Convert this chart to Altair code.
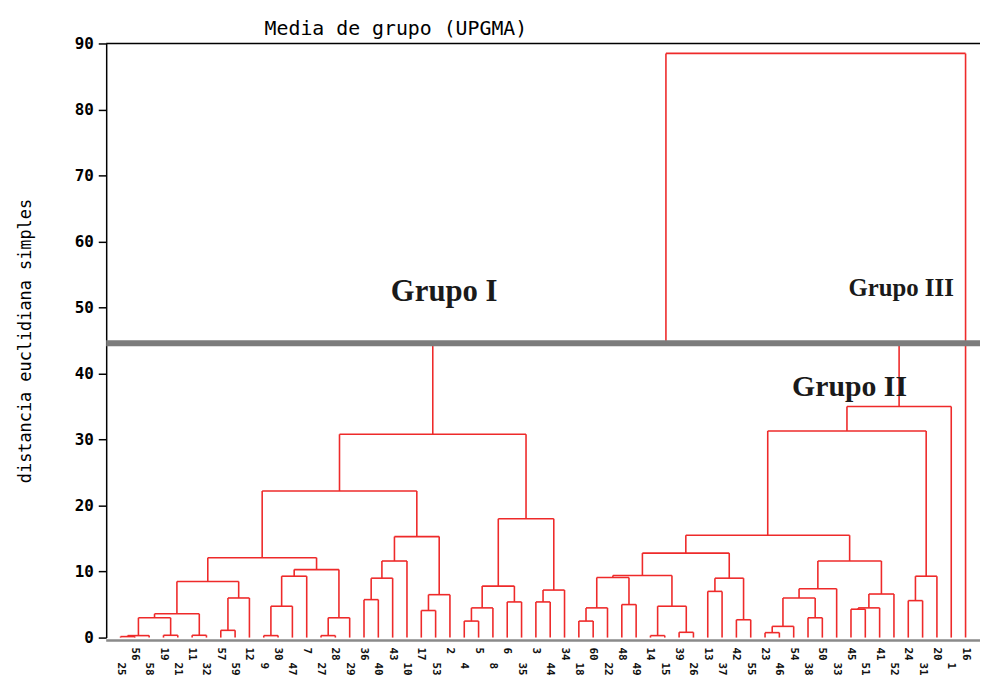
import altair as alt
import pandas as pd

# ---------------- data ----------------
leaf_labels = ["25", "56", "58", "19", "21", "11", "32", "57", "59", "12",
               "9", "30", "47", "7", "27", "28", "29", "36", "40", "43",
               "10", "17", "53", "2", "4", "5", "8", "6", "35", "3",
               "44", "34", "18", "60", "22", "48", "49", "14", "15", "39",
               "26", "13", "37", "42", "55", "23", "46", "54", "38", "50",
               "33", "45", "51", "41", "52", "24", "31", "20", "1", "16"]

# merges: name, left child, right child, linkage distance
merge_names = ["a1", "a2", "a3", "a4", "a5", "a6", "a7", "a8", "a9", "a10",
               "a11", "a12", "a13", "a14", "a15", "a16", "a17", "a18", "a19", "a20",
               "a21", "a22", "a23", "a24", "a25", "a26", "a27", "a28", "a29", "a30",
               "GI",
               "b1", "b2", "b3", "b4", "b5", "b6", "b7", "b8", "b9", "b10",
               "b11", "b12", "b13", "b14", "b15", "b16", "b17", "b18", "b19", "b20",
               "b21", "b22", "b23", "b24", "b25", "GII", "c1", "root"]
merge_left = ["L0", "a1", "L3", "a2", "L5", "a4", "L7", "a7", "a6", "L10",
              "a10", "a11", "L14", "a13", "a12", "a9", "L17", "a17", "a18", "L21",
              "a20", "a19", "a16", "L24", "a24", "L27", "a25", "L29", "a28", "a27",
              "a23",
              "L32", "b1", "L35", "b2", "L37", "L39", "b5", "b4", "L41", "L43",
              "b9", "b8", "L45", "b13", "L48", "b14", "b16", "L51", "b18", "b19",
              "b17", "b12", "L55", "b23", "b22", "b25", "GI", "c1"]
merge_right = ["L1", "L2", "L4", "a3", "L6", "a5", "L8", "L9", "a8", "L11",
               "L12", "L13", "L15", "L16", "a14", "a15", "L18", "L19", "L20", "L22",
               "L23", "a21", "a22", "L25", "L26", "L28", "a26", "L30", "L31", "a29",
               "a30",
               "L33", "L34", "L36", "b3", "L38", "L40", "b6", "b7", "L42", "L44",
               "b10", "b11", "L46", "L47", "L49", "b15", "L50", "L52", "L53", "L54",
               "b20", "b21", "L56", "L57", "b24", "L58", "GII", "L59"]
merge_height = [0.15, 0.3, 0.35, 3.0, 0.35, 3.6, 1.1, 6.0, 8.5, 0.3,
                4.75, 9.3, 0.3, 3.0, 10.3, 12.1, 5.75, 9.0, 11.6, 4.1,
                6.5, 15.3, 22.2, 2.5, 4.5, 5.4, 7.8, 5.4, 7.2, 18.0,
                30.8,
                2.5, 4.5, 5.0, 9.1, 0.3, 0.8, 4.75, 9.4, 7.0, 2.7,
                9.0, 12.8, 0.75, 1.7, 3.0, 6.0, 7.4, 4.3, 4.5, 6.6,
                11.6, 15.5, 5.6, 9.3, 31.3, 35.0, 44.6, 88.5]

cut_height = [44.6]

group_names = ["Grupo I", "Grupo III", "Grupo II"]
group_x = [22.6, 54.5, 50.9]
group_y = [52.3, 53.0, 38.0]
group_size = [31, 25, 30]

# ---------------- build segments ----------------
pos = {f"L{i}": (float(i), 0.0) for i in range(len(leaf_labels))}
segs = []
for name, l, r, h in zip(merge_names, merge_left, merge_right, merge_height):
    xl, hl = pos[l]
    xr, hr = pos[r]
    segs.append({"x": xl, "x2": xl, "y": hl, "y2": h})
    segs.append({"x": xr, "x2": xr, "y": hr, "y2": h})
    segs.append({"x": xl, "x2": xr, "y": h, "y2": h})
    pos[name] = ((xl + xr) / 2.0, h)
seg_df = pd.DataFrame(segs)

leaf_df = pd.DataFrame({"i": list(range(len(leaf_labels))), "label": leaf_labels})
leaf_df["row"] = leaf_df["i"] % 2
grp_df = pd.DataFrame({"name": group_names, "x": group_x, "y": group_y, "s": group_size})
cut_df = pd.DataFrame({"y": cut_height})

W, H = 878, 599
PR = 3
xs = alt.Scale(domain=[-1.0, 59.8], nice=False, zero=False)
ys = alt.Scale(domain=[0, 90], nice=False)
MONO = "DejaVu Sans Mono"
RED = "#ee2a2a"

base_x = alt.X("x:Q", scale=xs,
               axis=alt.Axis(labels=False, ticks=False, grid=False, title=None,
                             domain=False))
base_y = alt.Y("y:Q", scale=ys,
               axis=alt.Axis(values=list(range(0, 91, 10)), grid=False,
                             tickSize=8, tickColor="#000", tickWidth=1.5,
                             domainColor="#000", domainWidth=1.5,
                             labelFont=MONO, labelFontWeight="bold", labelFontSize=16,
                             labelColor="#000", labelPadding=5,
                             title="distancia euclidiana simples",
                             titleFont=MONO, titleFontWeight="normal", titleFontSize=17,
                             titleColor="#000", titlePadding=40))

tree = alt.Chart(seg_df).mark_rule(color=RED, strokeWidth=1.6).encode(
    x=base_x, x2="x2:Q", y=base_y, y2="y2:Q")

cut = alt.Chart(cut_df).mark_rule(color="#7c7c7c", strokeWidth=6).encode(
    y=alt.Y("y:Q", scale=ys), x=alt.value(0), x2=alt.value(W + PR))

top = alt.Chart(pd.DataFrame({"y": [90]})).mark_rule(color="#000", strokeWidth=1.5).encode(
    y=alt.Y("y:Q", scale=ys), x=alt.value(0), x2=alt.value(W + PR))

bottom = alt.Chart(pd.DataFrame({"y": [0]})).mark_rule(color="#8a8a8a", strokeWidth=2.5).encode(
    y=alt.value(H + 3), x=alt.value(0), x2=alt.value(W + PR))

lab_up = alt.Chart(leaf_df[leaf_df["row"] == 1]).mark_text(
    angle=90, align="left", baseline="middle", font=MONO, fontWeight="bold",
    fontSize=11, color="#111").encode(
    x=alt.X("i:Q", scale=xs), y=alt.value(H + 10), text="label:N")
lab_dn = alt.Chart(leaf_df[leaf_df["row"] == 0]).mark_text(
    angle=90, align="left", baseline="middle", font=MONO, fontWeight="bold",
    fontSize=11, color="#111").encode(
    x=alt.X("i:Q", scale=xs), y=alt.value(H + 25), text="label:N")

groups = alt.Chart(grp_df).mark_text(
    font="Liberation Serif", fontWeight="bold", color="#1a1a1a").encode(
    x=alt.X("x:Q", scale=xs), y=alt.Y("y:Q", scale=ys), text="name:N",
    size=alt.Size("s:Q", scale=None, legend=None))

chart = alt.layer(tree, cut, top, bottom, groups, lab_up, lab_dn).properties(
    width=W, height=H,
    title=alt.TitleParams("Media de grupo (UPGMA)", anchor="start", dx=250,
                          font=MONO, fontSize=20, fontWeight="normal",
                          color="#000", offset=0, dy=3),
    autosize=alt.AutoSizeParams(type="none"),
    padding={"left": 99, "top": 33, "right": PR, "bottom": 40},
).configure_view(stroke=None)

chart.save("out.html", embed_options={"renderer": "svg", "actions": False})
